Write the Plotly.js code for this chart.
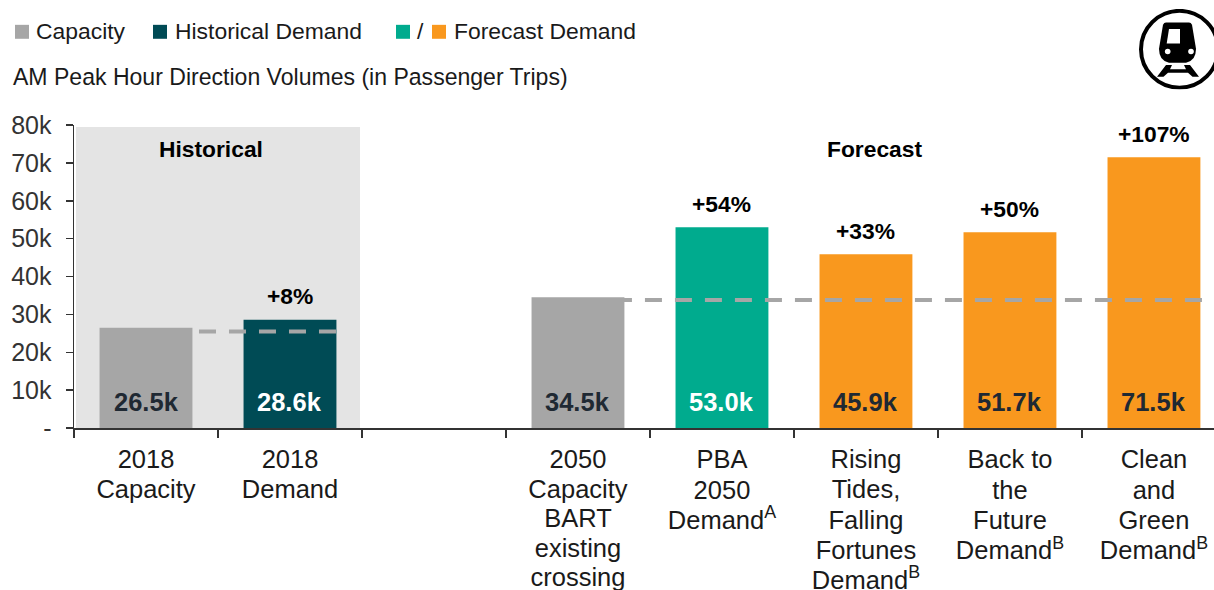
<!DOCTYPE html>
<html><head><meta charset="utf-8">
<script src="https://cdn.plot.ly/plotly-3.0.1.min.js"></script>
<style>html,body{margin:0;padding:0;background:#fff;overflow:hidden}</style></head>
<body><div id="chart" style="width:1214px;height:590px"></div>
<script>
const categories = ["2018<br>Capacity","2018<br>Demand"," ","2050<br>Capacity<br>BART<br>existing<br>crossing","PBA<br>2050<br>Demand<sup>A</sup>","Rising<br>Tides,<br>Falling<br>Fortunes<br>Demand<sup>B</sup>","Back to<br>the<br>Future<br>Demand<sup>B</sup>","Clean<br>and<br>Green<br>Demand<sup>B</sup>"];
const values = [26500,28600,null,34500,53000,45900,51700,71500];
const barLabels = ["26.5k","28.6k","","34.5k","53.0k","45.9k","51.7k","71.5k"];
const labelColors = ["#1f2933","#ffffff","#000","#1f2933","#ffffff","#1f2933","#1f2933","#1f2933"];
const changes = ["","+8%","","","+54%","+33%","+50%","+107%"];
const barColors = ["#a6a6a6","#004b55","#fff","#a6a6a6","#00ab8e","#f9981e","#f9981e","#f9981e"];
const yTickVals = [0,10000,20000,30000,40000,50000,60000,70000,80000];
const yTickText = ["-","10k","20k","30k","40k","50k","60k","70k","80k"];
const capacity2018 = 25500, capacity2050 = 33800;

const F = "Liberation Sans, Arial, sans-serif";
const L=74,B=428.5,W=1140,H=304;
const fx=x=>(x-L)/W, fy=y=>(B-y)/H;
const annotations = [];
categories.forEach((c,i)=>{
  if(barLabels[i]) annotations.push({x:i,y:6800,xref:'x',yref:'y',text:'<b>'+barLabels[i]+'</b>',showarrow:false,yanchor:'middle',font:{family:F,size:25.5,color:labelColors[i]}});
  if(changes[i]) annotations.push({x:i,y:values[i],xref:'x',yref:'y',text:'<b>'+changes[i]+'</b>',showarrow:false,yanchor:'bottom',yshift:8.5,font:{family:F,size:22.8,color:'#000'}});
});
const px=(x,y,text,size)=>({x:fx(x),y:fy(y),xref:'paper',yref:'paper',text,showarrow:false,xanchor:'left',yanchor:'middle',xshift:-2,font:{family:F,size:size||22.9,color:'#1a1a1a'}});
annotations.push(
  px(36,30,'Capacity'),px(175,30,'Historical Demand'),px(417,30,'/'),px(454,30,'Forecast Demand'),
  px(13,76,'AM Peak Hour Direction Volumes (in Passenger Trips)',23.05),
  {x:0.451,y:73690,xref:'x',yref:'y',yanchor:'middle',xanchor:'center',showarrow:false,text:'<b>Historical</b>',font:{family:F,size:22.8,color:'#000'}},
  {x:5.06,y:73690,xref:'x',yref:'y',yanchor:'middle',xanchor:'center',showarrow:false,text:'<b>Forecast</b>',font:{family:F,size:22.8,color:'#000'}}
);
const sq=(x,c)=>({type:'rect',xref:'paper',yref:'paper',x0:fx(x),x1:fx(x+14),y0:fy(38),y1:fy(24),fillcolor:c,line:{width:0}});
const dash=(x0,x1,y)=>({type:'line',xref:'x',yref:'y',x0,x1,y0:y,y1:y,line:{color:'#a6a6a6',width:4,dash:'17px,13px'},layer:'above'});
const shapes=[
  {type:'rect',xref:'x',yref:'y',x0:-0.486,x1:1.486,y0:0,y1:79475,fillcolor:'#e4e4e4',line:{width:0},layer:'below'},
  dash(0.368,1.326,capacity2018),dash(2.84,7.42,capacity2050),
  sq(15,'#a6a6a6'),sq(153,'#004b55'),sq(396,'#00ab8e'),sq(432,'#f9981e')
];
const icon = `<svg xmlns="http://www.w3.org/2000/svg" viewBox="0 0 81 81"><circle cx="40.5" cy="40.5" r="38.5" fill="#fff" stroke="#000" stroke-width="4"/><path d="M27 13.7H50Q52 13.7 53 16L57 40Q57 52 47 54H30Q20 52 20 40L24 16Q25 13.7 27 13.7Z" fill="#000"/><path d="M30 20.3H41V34.7H27.7Z" fill="#fff"/><circle cx="28.7" cy="42.7" r="2.8" fill="#fff"/><circle cx="52" cy="42.7" r="2.8" fill="#fff"/><path d="M27 56.3H33L31 60.5H47L45 56.3H51L60 68H53.5L49 64H29L24.5 68H18Z" fill="#000"/></svg>`;
const data=[{type:'bar',x:categories,y:values,marker:{color:barColors,line:{width:0}},width:0.645,hoverinfo:'x+y',showlegend:false}];
const layout={width:1214,height:590,margin:{l:L,r:0,t:B-H,b:590-B,pad:0},paper_bgcolor:'#fff',plot_bgcolor:'#fff',showlegend:false,
  font:{family:F},
  xaxis:{type:'category',categoryorder:'array',categoryarray:categories,range:[-0.5,7.417],tickson:'boundaries',ticks:'outside',ticklen:8,tickwidth:1.5,tickcolor:'#333',showline:true,linecolor:'#333',linewidth:1.5,showgrid:false,zeroline:false,tickangle:0,automargin:false,ticklabelstandoff:8,tickfont:{family:F,size:25.5,color:'#1a1a1a'}},
  yaxis:{range:[0,80000],tickmode:'array',tickvals:yTickVals,ticktext:yTickText,ticks:'outside',ticklen:7,tickwidth:1.5,tickcolor:'#333',showline:true,linecolor:'#333',linewidth:1.5,showgrid:false,zeroline:false,automargin:false,ticklabelstandoff:9,tickfont:{family:F,size:25,color:'#333'}},
  annotations,shapes,
  images:[{source:'data:image/svg+xml;utf8,'+encodeURIComponent(icon),xref:'paper',yref:'paper',x:fx(1139),y:fy(8),sizex:81/W,sizey:81/H,xanchor:'left',yanchor:'top',sizing:'stretch',layer:'above'}]
};
Plotly.newPlot('chart',data,layout,{displayModeBar:false,staticPlot:true}).then(()=>{
  // tighten the line spacing of the multi-line category labels
  document.querySelectorAll('.xtick text').forEach(t=>{
    const lines=t.querySelectorAll('tspan.line');
    const gap=lines.length===5?(t.textContent.includes('crossing')?29.5:30.2):lines.length===2?30:30.4;
    lines.forEach((s,i)=>{s.setAttribute('dy',(i*gap)+'px');});
  });
});
</script></body></html>
